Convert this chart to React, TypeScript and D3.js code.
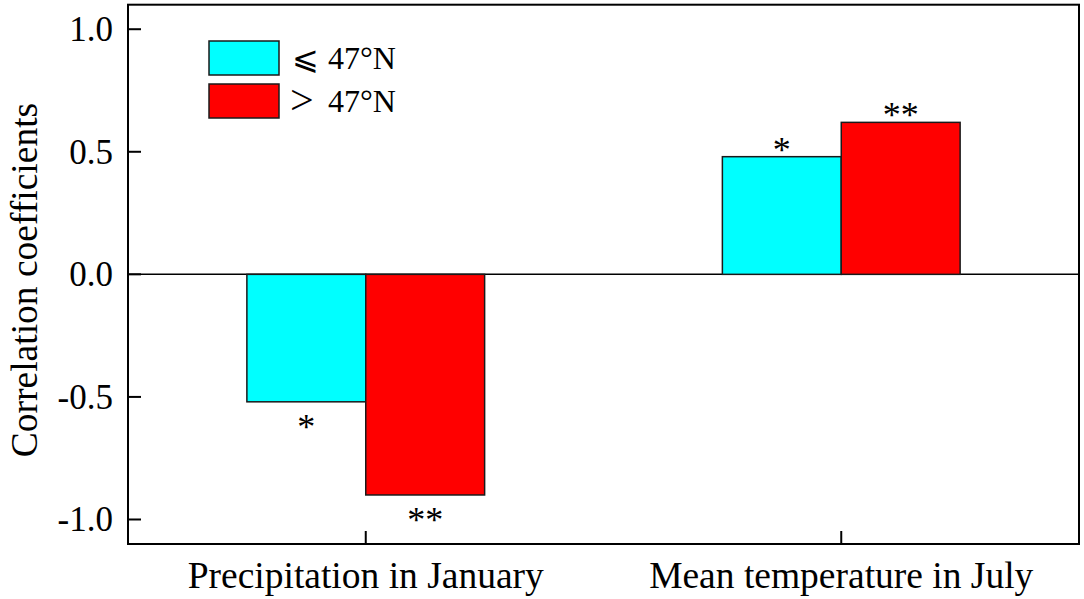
import React from "react";
import * as d3 from "d3";

const categories = ["Precipitation in January", "Mean temperature in July"];
const seriesNames = ["⩽ 47°N", "> 47°N"];
const seriesColors = ["#00FFFF", "#FF0000"];
const southValues = [-0.52, 0.48];
const northValues = [-0.9, 0.62];
const southSig = ["*", "*"];
const northSig = ["**", "**"];
const yTicks = [-1.0, -0.5, 0.0, 0.5, 1.0];

const W = 1084;
const H = 599;
const M = { left: 128, top: 4.7, right: 5, bottom: 55 };
const FONT = "'Liberation Serif', 'Times New Roman', serif";

const fmt = (t: number) => d3.format(".1f")(t).replace("−", "-");

export default function App() {
  const x0 = d3
    .scaleBand<string>()
    .domain(categories)
    .range([M.left, W - M.right])
    .paddingInner(0)
    .paddingOuter(0);
  const y = d3.scaleLinear().domain([-1.1, 1.1]).range([H - M.bottom, M.top]);
  const x1 = d3
    .scaleBand<number>()
    .domain([0, 1])
    .range([x0.bandwidth() * 0.25, x0.bandwidth() * 0.75])
    .padding(0);

  const series = [
    { name: seriesNames[0], values: southValues, sig: southSig, color: seriesColors[0] },
    { name: seriesNames[1], values: northValues, sig: northSig, color: seriesColors[1] },
  ];

  const plotL = M.left;
  const plotR = W - M.right;
  const plotT = M.top;
  const plotB = H - M.bottom;

  return (
    <svg
      width={W}
      height={H}
      style={{ position: "absolute", left: 0, top: 0, background: "#fff" }}
      fontFamily={FONT}
    >
      {/* zero line */}
      <line x1={plotL} x2={plotR} y1={y(0)} y2={y(0)} stroke="#000" strokeWidth={1.5} />

      {/* bars */}
      {series.map((s, si) =>
        categories.map((c, ci) => {
          const v = s.values[ci];
          const bx = (x0(c) as number) + (x1(si) as number);
          const bw = x1.bandwidth();
          const top = y(Math.max(0, v));
          const bot = y(Math.min(0, v));
          const labelY = v >= 0 ? top + 5 : bot + 37;
          return (
            <g key={`${si}-${ci}`}>
              <rect x={bx} y={top} width={bw} height={bot - top} fill={s.color} stroke="#1a1a1a" strokeWidth={1.5} />
              <text x={bx + bw / 2} y={labelY} textAnchor="middle" fontSize={36} fill="#000">
                {s.sig[ci]}
              </text>
            </g>
          );
        })
      )}

      {/* frame */}
      <rect
        x={plotL}
        y={plotT}
        width={plotR - plotL}
        height={plotB - plotT}
        fill="none"
        stroke="#000"
        strokeWidth={2}
      />

      {/* y ticks */}
      {yTicks.map((t) => (
        <g key={t}>
          <line x1={plotL} x2={plotL + 13} y1={y(t)} y2={y(t)} stroke="#000" strokeWidth={2} />
          <text
            x={plotL - 15}
            y={y(t)}
            dy="0.34em"
            textAnchor="end"
            fontSize={35}
            fill="#000"
          >
            {fmt(t)}
          </text>
        </g>
      ))}

      {/* x ticks */}
      {categories.map((c) => {
        const cx = (x0(c) as number) + x0.bandwidth() / 2;
        return (
          <g key={c}>
            <line x1={cx} x2={cx} y1={plotB} y2={plotB - 13} stroke="#000" strokeWidth={2} />
            <text x={cx} y={588} textAnchor="middle" fontSize={37.5} fill="#000">
              {c}
            </text>
          </g>
        );
      })}

      {/* y label */}
      <text
        transform={`translate(37, 280) rotate(-90)`}
        textAnchor="middle"
        fontSize={37.5}
        fill="#000"
      >
        Correlation coefficients
      </text>

      {/* legend */}
      {series.map((s, i) => {
        const [sym, lab] = s.name.split(" ");
        return (
          <g key={s.name} transform={`translate(209, ${41 + i * 43})`}>
            <rect width={70} height={34} fill={s.color} stroke="#1a1a1a" strokeWidth={1.5} />
            {i === 0 ? (
              <text x={83} y={28} fontSize={32} fill="#000" fontFamily="'DejaVu Sans', sans-serif" fontWeight={200}>
                {sym}
              </text>
            ) : (
              <text x={81} y={30} fontSize={42} fill="#000">
                {sym}
              </text>
            )}
            <text x={119} y={28} fontSize={32} fill="#000">
              {lab}
            </text>
          </g>
        );
      })}
    </svg>
  );
}
